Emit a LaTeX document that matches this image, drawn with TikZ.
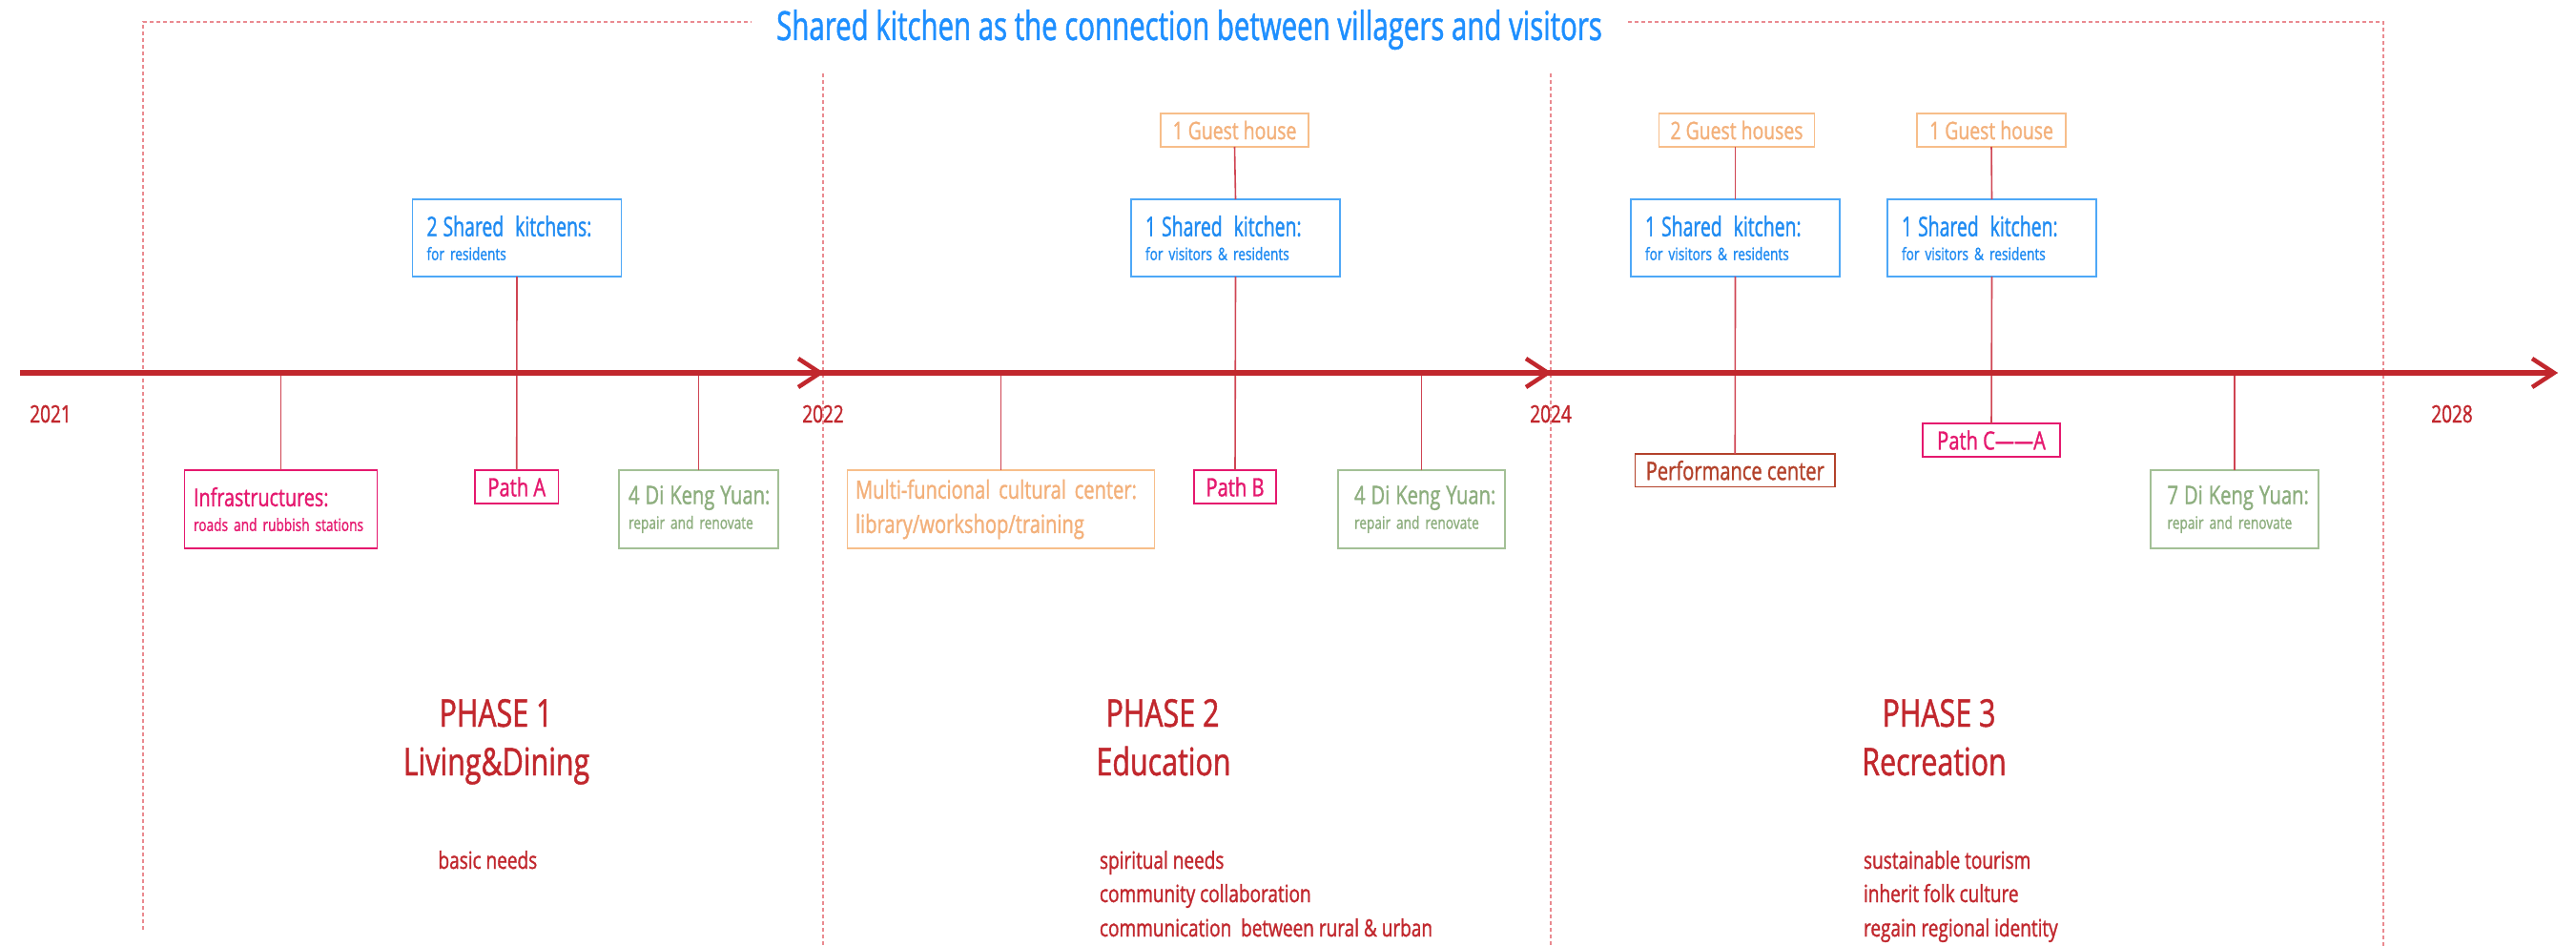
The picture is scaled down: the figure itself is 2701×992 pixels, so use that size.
\documentclass[tikz,border=0pt]{standalone}
\usepackage{fontspec}
\setmainfont{Open Sans}[FakeStretch=0.76,FakeBold=1.2]
\newfontfamily\narrowfont{Open Sans}[FakeStretch=0.68,FakeBold=1.2]
\newfontfamily\titlefont{Open Sans}[FakeStretch=0.70,FakeBold=1.2]
\definecolor{tlred}{HTML}{C1272D}
\definecolor{conred}{HTML}{CF4452}
\definecolor{dashred}{HTML}{EA8A90}
\definecolor{tblue}{HTML}{1E8FFF}
\definecolor{kblue}{HTML}{1F8BF2}
\definecolor{kbord}{HTML}{4EA8F7}
\definecolor{gorange}{HTML}{F3B07A}
\definecolor{gbord}{HTML}{F7BE8A}
\definecolor{mypink}{HTML}{E5186E}
\definecolor{dkgreen}{HTML}{8DAE7E}
\definecolor{dkbord}{HTML}{A3C096}
\definecolor{perfbrown}{HTML}{B3422B}
\begin{document}
\begin{tikzpicture}[x=1pt,y=-1pt,
  every node/.style={inner sep=0pt,outer sep=0pt},
  fr/.style={draw=dashred,line width=1.3pt,dash pattern=on 4pt off 3pt},
  conn/.style={draw=conred,line width=1.6pt},
  tl/.style={draw=tlred,line width=6.5pt},
  chev/.style={draw=tlred,line width=4.5pt,line join=miter},
  kbox/.style={draw=kbord,line width=1.8pt,text=kblue,minimum width=219pt,minimum height=81pt,
    text width=189pt,align=left,font=\fontsize{18}{25}\selectfont},
  gbox/.style={draw=gbord,line width=1.8pt,text=gorange,minimum height=35pt,font=\fontsize{25.5}{30}\selectfont},
  pbox/.style={draw=mypink,line width=1.8pt,text=mypink,minimum height=35pt,font=\fontsize{26.5}{30}\selectfont},
  lbox/.style={line width=1.8pt,minimum height=82pt,align=left,font=\fontsize{18}{26}\selectfont},
  year/.style={text=tlred,font=\fontsize{25}{30}\selectfont,anchor=base},
  phase/.style={text=tlred,font=\fontsize{40}{48}\selectfont,anchor=base},
  desc/.style={text=tlred,font=\fontsize{25}{30}\selectfont,anchor=base west}
]
\useasboundingbox (0,0) rectangle (2701,992);

% title and dashed frame
\node[anchor=base,text=tblue,font=\titlefont\fontsize{42}{50}\selectfont] (title) at (1247,42)
  {Shared kitchen as the connection between villagers and visitors};
\coordinate (fbl) at (150,975);
\coordinate (ftl) at (150,23);
\coordinate (ftr) at (2499,23);
\coordinate (fbr) at (2499,992);
\draw[fr] (fbl) -- (ftl) -- ([xshift=-26pt]title.west |- ftl);
\draw[fr] ([xshift=27pt]title.east |- ftr) -- (ftr) -- (fbr);
\coordinate (d22t) at (863,77);
\coordinate (d22b) at (863,992);
\coordinate (d24t) at (1626,77);
\coordinate (d24b) at (1626,992);
\draw[fr] (d22t) -- (d22b);
\draw[fr] (d24t) -- (d24b);

% timeline coordinates
\coordinate (t0) at (21,391);
\coordinate (t22) at (860,391);
\coordinate (t24) at (1623,391);
\coordinate (tend) at (2678,391);

% top boxes
\node[gbox,minimum width=155pt] (g2) at (1294.5,136.5) {1 Guest house};
\node[gbox,minimum width=163pt] (g3) at (1821,136.5) {2 Guest houses};
\node[gbox,minimum width=156pt] (g4) at (2088,136.5) {1 Guest house};

\node[kbox] (k1) at (542,249.5) {\mbox{\narrowfont\fontsize{28.5}{25}\selectfont 2 Shared\ \ kitchens:}\\\mbox{for residents}};
\node[kbox] (k2) at (1295.5,249.5) {\mbox{\narrowfont\fontsize{28.5}{25}\selectfont 1 Shared\ \ kitchen:}\\\mbox{for visitors \& residents}};
\node[kbox] (k3) at (1819.5,249.5) {\mbox{\narrowfont\fontsize{28.5}{25}\selectfont 1 Shared\ \ kitchen:}\\\mbox{for visitors \& residents}};
\node[kbox] (k4) at (2088.5,249.5) {\mbox{\narrowfont\fontsize{28.5}{25}\selectfont 1 Shared\ \ kitchen:}\\\mbox{for visitors \& residents}};

% bottom boxes
\node[lbox,draw=mypink,text=mypink,minimum width=202pt,text width=183pt] (infra) at (294.5,534)
  {\mbox{\fontsize{26}{26}\selectfont Infrastructures:}\\\mbox{roads and rubbish stations}};
\node[pbox,minimum width=87.5pt] (pA) at (541.75,510.5) {Path A};
\node[lbox,draw=dkbord,text=dkgreen,minimum width=167pt,text width=147pt] (dky1) at (732.5,534)
  {\mbox{\fontsize{26.5}{26}\selectfont 4 Di Keng Yuan:}\\\mbox{repair and renovate}};
\node[lbox,draw=gbord,text=gorange,minimum width=322pt,text width=305pt,font=\fontsize{26.5}{36}\selectfont] (multi) at (1049.5,534)
  {\mbox{Multi-funcional cultural center:}\\\mbox{library/workshop/training}};
\node[pbox,minimum width=86pt] (pB) at (1295,510.5) {Path B};
\node[lbox,draw=dkbord,text=dkgreen,minimum width=175pt,text width=141pt] (dky2) at (1490.5,534)
  {\mbox{\fontsize{26.5}{26}\selectfont 4 Di Keng Yuan:}\\\mbox{repair and renovate}};
\node[pbox,draw=perfbrown,text=perfbrown,minimum width=209.5pt,minimum height=34.5pt] (perf) at (1819.25,493.25) {Performance center};
\node[pbox,minimum width=144pt] (pC) at (2088,461.5) {Path C——A};
\node[lbox,draw=dkbord,text=dkgreen,minimum width=176pt,text width=141pt] (dky3) at (2343,534)
  {\mbox{\fontsize{26.5}{26}\selectfont 7 Di Keng Yuan:}\\\mbox{repair and renovate}};

% connectors
\draw[conn] (g2.south) -- (k2.north);
\draw[conn] (g3.south -| k3.north) -- (k3.north);
\draw[conn] (g4.south) -- (k4.north);
\draw[conn] (k1.south) -- (pA.north);
\draw[conn] (k2.south) -- (pB.north);
\draw[conn] (k3.south) -- (perf.north);
\draw[conn] (k4.south) -- (pC.north);
\draw[conn] (infra.north) -- (infra.north |- t0);
\draw[conn] (dky1.north) -- (dky1.north |- t0);
\draw[conn] (multi.north) -- (multi.north |- t0);
\draw[conn] (dky2.north) -- (dky2.north |- t0);
\draw[conn] (dky3.north) -- (dky3.north |- t0);

% timeline
\draw[tl] (t0) -- (tend);
\draw[chev] (t22) ++(-23,-15) -- (t22) -- ++(-23,15);
\draw[chev] (t24) ++(-23,-15) -- (t24) -- ++(-23,15);
\draw[chev] (tend) ++(-23,-15) -- (tend) -- ++(-23,15);

% years
\node[year] (y21) at (53,443) {2021};
\node[year] (y22) at (863,443) {2022};
\node[year] (y24) at (1626,443) {2024};
\node[year] (y28) at (2571,443) {2028};

% phases
\node[phase] (p1) at (520,762) {PHASE 1};
\node[phase] (p1n) at (520.5,813) {Living\&Dining};
\node[phase] (p2) at (1219,762) {PHASE 2};
\node[phase] (p2n) at (1220,813) {Education};
\node[phase] (p3) at (2033,762) {PHASE 3};
\node[phase] (p3n) at (2028,813) {Recreation};

\node[desc] (d1a) at (459.5,911) {basic needs};
\node[desc] (d2a) at (1153,911) {spiritual needs};
\node[desc] (d2b) at (1153,946) {community collaboration};
\node[desc] (d2c) at (1153,982) {communication\ \ between rural \& urban};
\node[desc] (d3a) at (1954,911) {sustainable tourism};
\node[desc] (d3b) at (1954,946) {inherit folk culture};
\node[desc] (d3c) at (1954,982) {regain regional identity};
\end{tikzpicture}
\end{document}
